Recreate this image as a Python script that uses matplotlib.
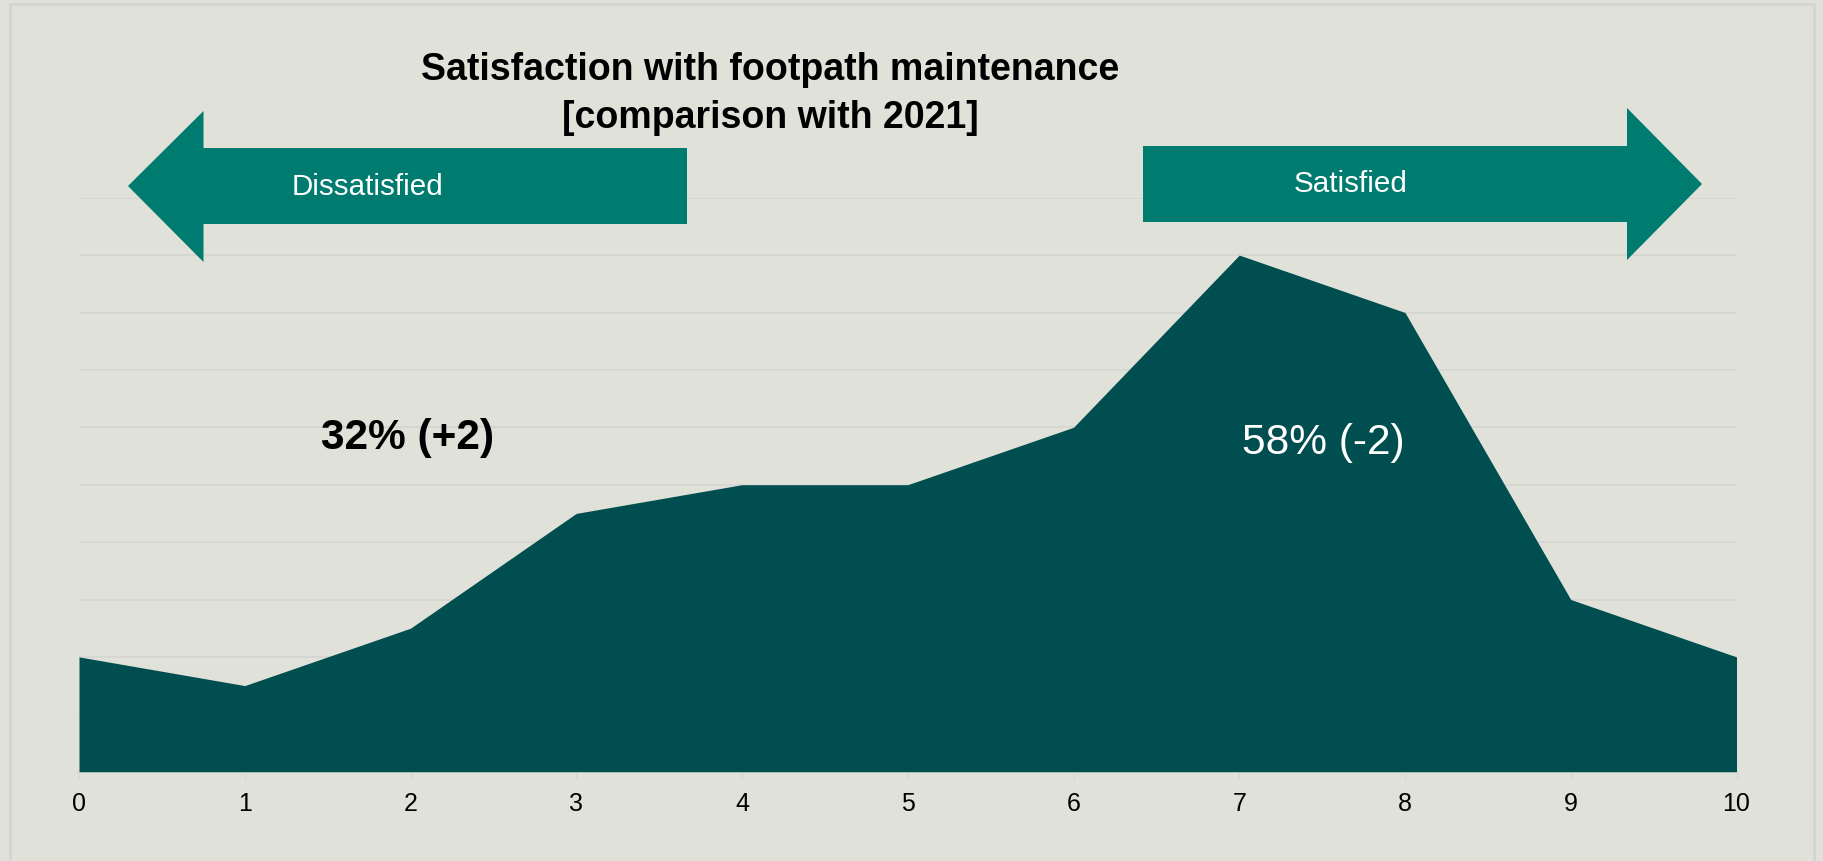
"""
Satisfaction with footpath maintenance, area chart
"""

import matplotlib
import matplotlib.pyplot as plt
from matplotlib.patches import Polygon, Rectangle

matplotlib.use("Agg")

# ratings on the 0-10 scale and share of respondents (%)
scores = [0, 1, 2, 3, 4, 5, 6, 7, 8, 9, 10]
shares = [4, 3, 5, 9, 10, 10, 12, 18, 16, 6, 4]

title_lines = ["Satisfaction with footpath maintenance", "[comparison with 2021]"]
dissatisfied_label = "Dissatisfied"
satisfied_label = "Satisfied"
dissatisfied_total = "32% (+2)"
satisfied_total = "58% (-2)"

W, H = 1823, 862
BG = "#E0E1D9"
AREA = "#004E50"
ARROW = "#007B6F"
GRID = "#D6D7D2"


def fx(px):
    """pixel x -> figure fraction"""
    return px / W


def fy(py):
    """pixel y (from top) -> figure fraction"""
    return 1 - py / H


def add_arrow(fig, pts, text, text_x, text_y):
    """
    Draws a block arrow given in pixel points, with a white label
    """
    poly = Polygon(
        [(fx(x), fy(y)) for x, y in pts],
        closed=True,
        transform=fig.transFigure,
        facecolor=ARROW,
        edgecolor="none",
        zorder=5,
    )
    fig.patches.append(poly)
    fig.text(fx(text_x), fy(text_y), text, color="white", fontsize=21.3,
             ha="center", va="baseline", zorder=6)


def main():
    plt.rcParams["font.family"] = ["Liberation Sans", "DejaVu Sans"]

    fig = plt.figure(figsize=(W / 100, H / 100), dpi=100, facecolor=BG)
    ax = fig.add_axes([fx(79), fy(772.7), fx(1736.5) - fx(79),
                       fy(198.7) - fy(772.7)])
    ax.set_facecolor(BG)

    ax.fill_between(scores, shares, 0, color=AREA, linewidth=0, zorder=3)
    ax.set_xlim(0, 10)
    ax.set_ylim(0, 20)
    ax.set_xticks(scores)
    ax.set_yticks(range(2, 21, 2))
    ax.yaxis.grid(True, color=GRID, linewidth=1.3)
    ax.set_axisbelow(True)
    ax.tick_params(axis="y", left=False, labelleft=False)
    ax.tick_params(axis="x", length=5, width=1, color=GRID, labelsize=18,
                   pad=9, labelcolor="black")
    for side in ["top", "left", "right"]:
        ax.spines[side].set_visible(False)
    ax.spines["bottom"].set_color(GRID)
    ax.spines["bottom"].set_linewidth(1.3)

    # thin frame round the chart
    fig.patches.append(Rectangle(
        (fx(10), fy(880)), fx(1814) - fx(10), fy(5) - fy(880),
        transform=fig.transFigure, fill=False, edgecolor="#D4D5CF",
        linewidth=2, zorder=1,
    ))

    fig.text(fx(770.5), fy(80), title_lines[0], fontsize=27,
             fontweight="bold", ha="center", va="baseline")
    fig.text(fx(770.5), fy(128), title_lines[1], fontsize=27,
             fontweight="bold", ha="center", va="baseline")

    add_arrow(fig, [(128, 187), (203.5, 112), (203.5, 149), (687, 149),
                    (687, 225), (203.5, 225), (203.5, 263)],
              dissatisfied_label, 367, 195)
    add_arrow(fig, [(1143, 147), (1627, 147), (1627, 109), (1702, 185),
                    (1627, 261), (1627, 223), (1143, 223)],
              satisfied_label, 1351, 192)

    fig.text(fx(407.5), fy(449), dissatisfied_total, fontsize=30.5,
             fontweight="bold", ha="center", va="baseline", zorder=6)
    fig.text(fx(1323.5), fy(454), satisfied_total, fontsize=30.5,
             color="white", ha="center", va="baseline", zorder=6)

    fig.savefig("out.png", dpi=100, facecolor=BG)


if __name__ == "__main__":
    main()
